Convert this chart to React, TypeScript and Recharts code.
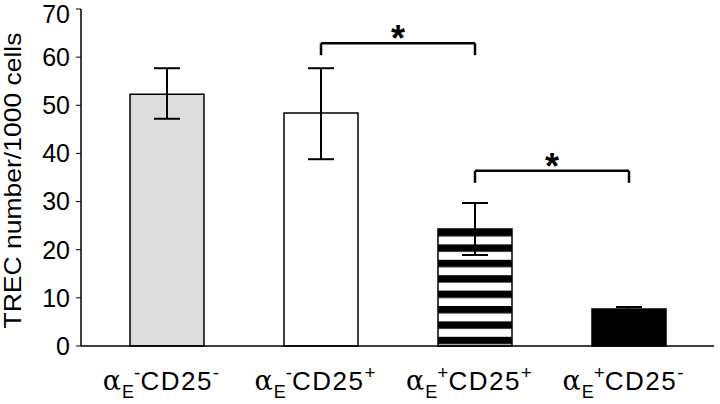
import { BarChart, Bar, XAxis, YAxis, Cell, ErrorBar, ReferenceLine, Label } from 'recharts';

const categories = ['αE-CD25-', 'αE-CD25+', 'αE+CD25+', 'αE+CD25-'];
const alphaSigns = ['-', '-', '+', '+'];
const cd25Signs = ['-', '+', '+', '-'];
const meanTrec = [52.3, 48.4, 24.3, 7.7];
const upperTrec = [57.7, 57.7, 29.7, 8.1];
const lowerTrec = [47.2, 38.8, 18.9, 7.3];
const barFills = ['#dcdcdc', '#ffffff', 'url(#stripes)', '#000000'];
const yTicks = [0, 10, 20, 30, 40, 50, 60, 70];

// significance brackets between bar pairs
const brackets = [
  { from: categories[1], to: categories[2], top: 62.9, foot: 60.4 },
  { from: categories[2], to: categories[3], top: 36.4, foot: 33.9 },
];

const data = categories.map((name, i) => ({
  name,
  trec: meanTrec[i],
  err: [meanTrec[i] - lowerTrec[i], upperTrec[i] - meanTrec[i]],
}));

const FONT = '"Liberation Sans", Arial, Helvetica, sans-serif';

function CellTick({ x, y, payload }: any) {
  const i = categories.indexOf(payload.value);
  return (
    <text x={x - 6} y={y + 44} textAnchor="middle" fill="#000" fontFamily={FONT} fontSize={26}>
      <tspan fontFamily='"DejaVu Serif", serif' fontSize={27}>α</tspan>
      <tspan fontSize={18} dy={8} dx={1}>E</tspan>
      <tspan fontSize={19} dy={-19}>{alphaSigns[i]}</tspan>
      <tspan dy={11} letterSpacing={1.5}>CD25</tspan>
      <tspan fontSize={19} dy={-11}>{cd25Signs[i]}</tspan>
    </text>
  );
}

const renderStar = ({ viewBox }: any) => (
  <text
    x={viewBox.x + viewBox.width / 2}
    y={viewBox.y + 8}
    textAnchor="middle"
    fontSize={36}
    fontWeight="bold"
    fontFamily={FONT}
    fill="#000"
  >
    *
  </text>
);

const renderYTitle = ({ viewBox }: any) => {
  const cy = viewBox.y + viewBox.height / 2 + 3;
  return (
    <text
      x={21}
      y={cy}
      transform={`rotate(-90, 21, ${cy})`}
      textAnchor="middle"
      fontSize={24}
      fontFamily={FONT}
      fill="#000"
      textLength={296}
      lengthAdjust="spacingAndGlyphs"
    >
      TREC number/1000 cells
    </text>
  );
};

export default function App() {
  return (
    <div style={{ position: 'absolute', left: 0, top: 0, width: 720, height: 404, background: '#fff' }}>
      <svg width={0} height={0} style={{ position: 'absolute' }}>
        <defs>
          <pattern id="stripes" patternUnits="userSpaceOnUse" x={0} y={229} width={20} height={15.4}>
            <rect x={0} y={0} width={20} height={15.4} fill="#fff" />
            <rect x={0} y={0} width={20} height={7.4} fill="#000" />
          </pattern>
        </defs>
      </svg>
      <BarChart width={720} height={404} data={data} margin={{ top: 9, right: 6, left: 0, bottom: 0 }}>
        <XAxis
          dataKey="name"
          height={58}
          interval={0}
          tickLine={false}
          tickSize={0}
          tickMargin={0}
          padding={{ left: 9, right: 8 }}
          axisLine={{ stroke: '#000', strokeWidth: 1.5 }}
          tick={<CellTick />}
        />
        <XAxis
          xAxisId="top"
          orientation="top"
          dataKey="name"
          height={0}
          tick={false}
          tickLine={false}
          axisLine={{ stroke: '#000', strokeWidth: 2 }}
        />
        <YAxis
          width={81}
          domain={[0, 70]}
          ticks={yTicks}
          tickSize={5}
          tickMargin={6}
          axisLine={{ stroke: '#000', strokeWidth: 1.5 }}
          tickLine={{ stroke: '#000', strokeWidth: 1 }}
          tick={{ fill: '#000', fontSize: 25, fontFamily: FONT }}
        >
          <Label content={renderYTitle} />
        </YAxis>
        <YAxis
          yAxisId="right"
          orientation="right"
          width={0}
          domain={[0, 70]}
          tick={false}
          tickLine={false}
          axisLine={{ stroke: '#000', strokeWidth: 2 }}
        />
        <Bar dataKey="trec" barSize={74} isAnimationActive={false}>
          {data.map((d, i) => (
            <Cell key={d.name} fill={barFills[i]} stroke="#000" strokeWidth={1.5} />
          ))}
          <ErrorBar dataKey="err" direction="y" width={13} stroke="#000" strokeWidth={2} />
        </Bar>
        {brackets.map((b) => [
          <ReferenceLine
            key={b.from + 'h'}
            segment={[{ x: b.from, y: b.top }, { x: b.to, y: b.top }]}
            stroke="#000"
            strokeWidth={2.5}
            label={renderStar}
          />,
          <ReferenceLine
            key={b.from + 'l'}
            segment={[{ x: b.from, y: b.top }, { x: b.from, y: b.foot }]}
            stroke="#000"
            strokeWidth={2.5}
          />,
          <ReferenceLine
            key={b.from + 'r'}
            segment={[{ x: b.to, y: b.top }, { x: b.to, y: b.foot }]}
            stroke="#000"
            strokeWidth={2.5}
          />,
        ])}
      </BarChart>
    </div>
  );
}
